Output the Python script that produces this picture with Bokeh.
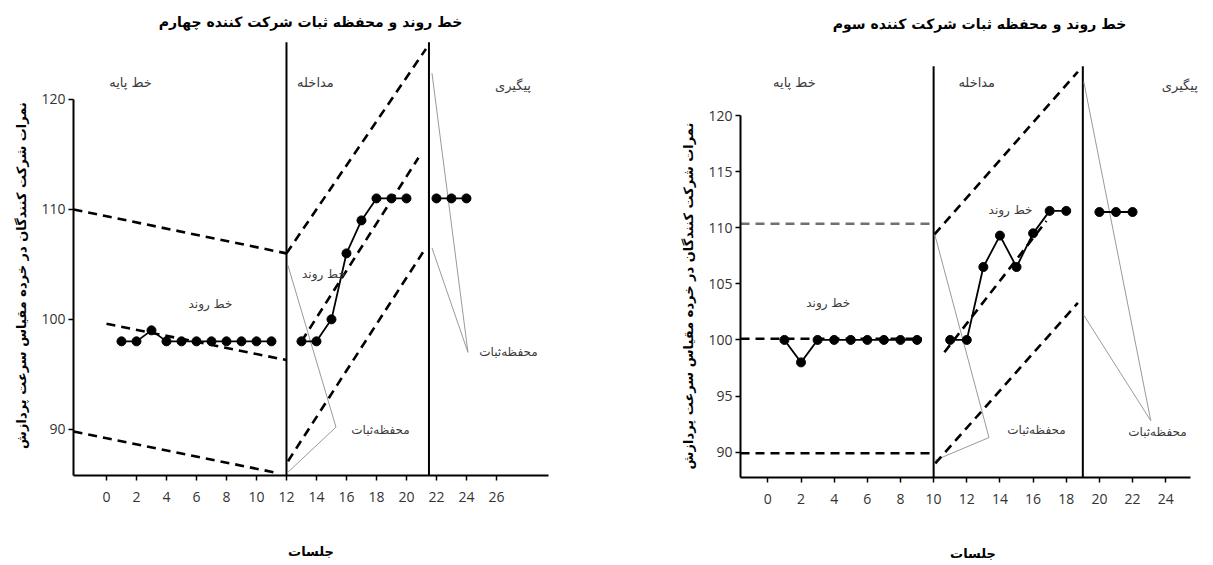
from bokeh.plotting import figure
from bokeh.layouts import row
from bokeh.models import FixedTicker, Range1d
from bokeh.core.properties import value
from bokeh.embed import file_html
from bokeh.resources import INLINE

FA = value("DejaVu Sans")

# ---------------- participant 4 (left) ----------------
p4_base_x = [1, 2, 3, 4, 5, 6, 7, 8, 9, 10, 11]
p4_base_y = [98, 98, 99, 98, 98, 98, 98, 98, 98, 98, 98]
p4_int_x = [13, 14, 15, 16, 17, 18, 19, 20]
p4_int_y = [98, 98, 100, 106, 109, 111, 111, 111]
p4_fol_x = [22, 23, 24]
p4_fol_y = [111, 111, 111]
p4_phase_x = [12, 21.5]
p4_base_upper = ([-2.2, 12], [110, 106])
p4_base_trend = ([0, 12], [99.6, 96.3])
p4_base_lower = ([-2.2, 11.5], [89.8, 86.0])
p4_int_upper = ([12, 21.3], [106, 124.6])
p4_int_trend = ([13, 20.8], [98, 114.7])
p4_int_lower = ([12.1, 21.1], [87.1, 106.1])
p4_call_int = ([12.1, 15.3, 12.1], [104.9, 90.2, 86.1])
p4_call_fol = ([21.7, 24.1, 21.7], [122.4, 97.0, 106.5])
p4_xticks = [0, 2, 4, 6, 8, 10, 12, 14, 16, 18, 20, 22, 24, 26]
p4_yticks = [90, 100, 110, 120]

# ---------------- participant 3 (right) ----------------
p3_base_x = [1, 2, 3, 4, 5, 6, 7, 8, 9]
p3_base_y = [100, 98, 100, 100, 100, 100, 100, 100, 100]
p3_int_x = [11, 12, 13, 14, 15, 16, 17, 18]
p3_int_y = [100, 100, 106.5, 109.3, 106.5, 109.5, 111.5, 111.5]
p3_fol_x = [20, 21, 22]
p3_fol_y = [111.4, 111.4, 111.4]
p3_phase_x = [10, 19]
p3_base_upper = ([-1.65, 10], [110.35, 110.35])
p3_base_trend = ([-1.65, 9.3], [100.1, 100.1])
p3_base_lower = ([-1.65, 10], [89.9, 89.9])
p3_int_upper = ([10.05, 18.7], [109.4, 123.9])
p3_int_trend = ([10.65, 16.8], [98.9, 110.6])
p3_int_lower = ([10.1, 18.7], [89.0, 103.3])
p3_call_int = ([10.05, 13.34, 10.05], [109.5, 91.3, 89.25])
p3_call_fol = ([19.06, 23.1, 19.06], [123.0, 92.8, 102.2])
p3_xticks = [0, 2, 4, 6, 8, 10, 12, 14, 16, 18, 20, 22, 24]
p3_yticks = [90, 95, 100, 105, 110, 115, 120]

YLABEL = "نمرات شرکت کنندگان در خرده مقیاس سرعت پردازش"
XLABEL = "جلسات"
TITLE4 = "خط روند و محفظه ثبات شرکت کننده چهارم"
TITLE3 = "خط روند و محفظه ثبات شرکت کننده سوم"
PHASES = ["خط پایه", "مداخله", "پیگیری"]
TREND = "خط روند"
ENVELOPE = "محفظه\u200cثبات"


def panel(xr, xbounds_end, yr, ybounds_top, fw, fh, bl, br, bb, xticks, yticks,
          base, inter, fol, phase_x, phase_top, env, calls,
          base_upper_color, texts, ylabel):
    p = figure(frame_width=fw, frame_height=fh,
               x_range=Range1d(*xr), y_range=Range1d(*yr),
               min_border_left=bl, min_border_right=br,
               min_border_top=10, min_border_bottom=bb,
               output_backend="svg", toolbar_location=None)
    p.outline_line_color = None
    p.grid.visible = False
    p.background_fill_color = "white"
    for ax in (p.xaxis[0], p.yaxis[0]):
        ax.axis_line_width = 2
        ax.axis_line_color = "black"
        ax.major_tick_line_width = 1.5
        ax.major_tick_line_color = "black"
        ax.major_tick_in = 0
        ax.major_tick_out = 5
        ax.minor_tick_line_color = None
        ax.major_label_text_font = "Open Sans"
        ax.major_label_text_font_size = "14px"
        ax.major_label_text_color = "#333333"
        ax.axis_label_text_font = "DejaVu Sans"
        ax.axis_label_text_font_style = "bold"
        ax.axis_label_text_font_size = "13px"
        ax.axis_label_text_color = "black"
    p.xaxis.ticker = FixedTicker(ticks=xticks)
    p.yaxis.ticker = FixedTicker(ticks=yticks)
    p.xaxis.bounds = (xr[0], xbounds_end)
    p.yaxis.bounds = (yr[0], ybounds_top)
    p.xaxis.major_label_standoff = 11
    p.yaxis.major_label_standoff = 3
    p.xaxis.axis_label = XLABEL
    p.xaxis.axis_label_standoff = 39
    p.yaxis.axis_label = ylabel
    p.yaxis.axis_label_standoff = 9

    # phase change lines
    for px in phase_x:
        p.line([px, px], [yr[0], phase_top], line_color="black", line_width=2)

    # gray callout lines
    for cx, cy in calls:
        p.line(cx, cy, line_color="#9a9a9a", line_width=1)

    # stability envelopes and trend lines (dashed)
    for i, (ex, ey) in enumerate(env):
        col = base_upper_color if i == 0 else "black"
        p.line(ex, ey, line_color=col, line_width=2.6, line_dash="9 6")

    # data series
    for sx, sy in (base, inter, fol):
        p.line(sx, sy, line_color="black", line_width=1.8)
        p.scatter(sx, sy, size=9, color="black")

    # texts
    tx, ty, tt, ts, tw = texts
    for x, y, t, s, w in zip(tx, ty, tt, ts, tw):
        p.text([x], [y], text=[t], text_font=FA, text_font_size=s,
               text_font_style=w, text_align="center", text_baseline="middle",
               text_color="black" if w == "bold" else "#3a3a3a")
    return p


p4_texts = (
    [13.6, 1.6, 13.93, 27.1, 6.93, 14.5, 18.27, 26.8],
    [127.0, 121.5, 121.5, 121.3, 101.4, 104.1, 89.9, 97.0],
    [TITLE4, PHASES[0], PHASES[1], PHASES[2], TREND, TREND, ENVELOPE, ENVELOPE],
    ["14px", "13px", "13px", "13px", "12px", "12px", "12px", "12px"],
    ["bold", "normal", "normal", "normal", "normal", "normal", "normal", "normal"],
)
p3_texts = (
    [12.77, 1.6, 12.6, 24.85, 3.64, 14.64, 16.2, 23.5],
    [128.2, 122.9, 122.9, 122.67, 103.27, 111.6, 91.93, 91.77],
    [TITLE3, PHASES[0], PHASES[1], PHASES[2], TREND, TREND, ENVELOPE, ENVELOPE],
    ["14px", "13px", "13px", "13px", "12px", "12px", "12px", "12px"],
    ["bold", "normal", "normal", "normal", "normal", "normal", "normal", "normal"],
)

left = panel((-2.2, 29.47), 29.47, (85.8, 128.09), 120, 475, 465, 73, 80, 88,
             p4_xticks, p4_yticks,
             (p4_base_x, p4_base_y), (p4_int_x, p4_int_y), (p4_fol_x, p4_fol_y),
             p4_phase_x, 125.2,
             [p4_base_upper, p4_base_trend, p4_base_lower,
              p4_int_upper, p4_int_trend, p4_int_lower],
             [p4_call_int, p4_call_fol], "black", p4_texts,
             YLABEL + "\u2003" * 5)

right = panel((-1.65, 26.4), 25.5, (87.74, 129.36), 120, 465, 467, 112, 0, 86,
              p3_xticks, p3_yticks,
              (p3_base_x, p3_base_y), (p3_int_x, p3_int_y), (p3_fol_x, p3_fol_y),
              p3_phase_x, 124.4,
              [p3_base_upper, p3_base_trend, p3_base_lower,
               p3_int_upper, p3_int_trend, p3_int_lower],
              [p3_call_int, p3_call_fol], "#707070", p3_texts,
              YLABEL + "\u2003" * 8)

layout = row(left, right)
open("out.html", "w").write(file_html(layout, INLINE))
